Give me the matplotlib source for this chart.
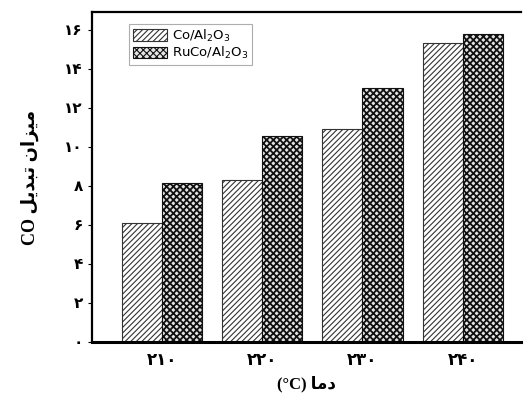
import matplotlib.pyplot as plt
import numpy as np

plt.rcParams['hatch.linewidth'] = 0.8

temps = [210, 220, 230, 240]
temp_labels = ['۲۱۰', '۲۲۰', '۲۳۰', '۲۴۰']
co_al = [6.1, 8.3, 10.9, 15.3]
ruco_al = [8.15, 10.55, 13.0, 15.8]
y_ticks = [0, 2, 4, 6, 8, 10, 12, 14, 16]
y_labels = ['۰', '۲', '۴', '۶', '۸', '۱۰', '۱۲', '۱۴', '۱۶']
series_names = ['Co/Al$_2$O$_3$', 'RuCo/Al$_2$O$_3$']

# متن فارسی به صورت شکل‌های نمایشی و ترتیب بصری
ylab = 'CO ' + '\uFEDE\uFEF3\uFEAA\uFE92\uFE97' + ' ' + '\uFEE5\uFE8D\uFEB0\uFEF4\uFEE3'
xlab = '(°C) ' + '\uFE8E\uFEE3\uFEA9'
fam = ['Liberation Serif', 'DejaVu Sans']

fig = plt.figure(figsize=(5.26, 4.19), dpi=100)
ax = fig.add_axes([0.175, 0.184, 0.815, 0.787])

x = np.array(temps, dtype=float)
w = 4
ax.bar(x - w / 2, co_al, width=w, color='white', edgecolor='#333333',
       hatch='//////', linewidth=0.8, label=series_names[0])
bars2 = ax.bar(x + w / 2, ruco_al, width=w, color='#e4e4e4', edgecolor='#111111',
               hatch='xxxxx', linewidth=0.8, label=series_names[1])
for b in bars2:
    if hasattr(b, 'set_hatch_linewidth'):
        b.set_hatch_linewidth(1.3)

ax.set_xlim(203, 245.8)
ax.set_ylim(0, 16.9)
ax.set_xticks(temps)
ax.set_xticklabels(temp_labels, family=fam, fontweight='bold', fontsize=12)
ax.set_yticks(y_ticks)
ax.set_yticklabels(y_labels, family=fam, fontweight='bold', fontsize=11)
ax.tick_params(axis='y', direction='out', length=3, width=0.8)
ax.tick_params(axis='x', direction='in', length=4, width=0.8, pad=8)

for s in ['top', 'left']:
    ax.spines[s].set_linewidth(1.6)
ax.spines['bottom'].set_linewidth(2.2)
ax.spines['right'].set_visible(False)

ax.set_ylabel(ylab, family=fam, fontweight='bold', fontsize=13, labelpad=18)
ax.set_xlabel(xlab, family=fam, fontweight='bold', fontsize=12, labelpad=5)

leg = ax.legend(loc='upper left', bbox_to_anchor=(0.07, 0.985), fontsize=9.5,
                frameon=True, fancybox=False, edgecolor='#999999',
                handlelength=2.6, handleheight=1.0, borderpad=0.3,
                labelspacing=0.1, handletextpad=0.4)
leg.get_frame().set_linewidth(0.8)

fig.savefig('out.png', dpi=100)
